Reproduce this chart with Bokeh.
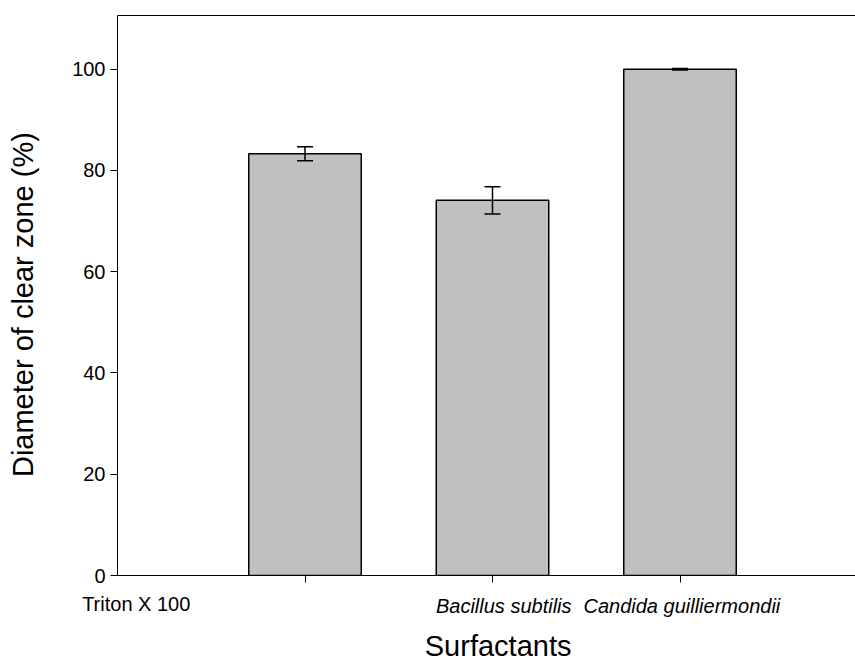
from bokeh.plotting import figure
from bokeh.models import ColumnDataSource, Whisker, TeeHead, FixedTicker, LinearAxis, Range1d
from bokeh.embed import file_html
from bokeh.resources import INLINE

# ---- data ----
bar_pos = [1, 2, 3]
values = [83.3, 74.1, 100.0]
errors = [1.4, 2.7, 0.15]
y_ticks = [0, 20, 40, 60, 80, 100]
cat_labels = ["Triton X 100", "Bacillus subtilis", "Candida guilliermondii"]
cat_label_x = [0.1, 2.06, 3.01]
x_title = "Surfactants"
y_title = "Diameter of clear zone (%)"
x_title_pos = 2.03
y_title_pos = 53.5

FONT = "Liberation Sans"

src = ColumnDataSource(dict(
    x=bar_pos, top=values,
    upper=[v + e for v, e in zip(values, errors)],
    lower=[v - e for v, e in zip(values, errors)],
))

p = figure(width=855, height=664, output_backend="svg", toolbar_location=None,
           x_range=Range1d(0, 3.936), y_range=Range1d(0, 110.6),
           min_border_left=117, min_border_right=0, min_border_top=15, min_border_bottom=89)
p.outline_line_color = None
p.grid.visible = False
p.background_fill_color = "white"

p.vbar(x="x", top="top", bottom=0, width=0.6, source=src,
       fill_color="#c0c0c0", line_color="black", line_width=1.5)

wh = Whisker(base="x", upper="upper", lower="lower", source=src,
             line_color="black", line_width=1.5, level="overlay",
             upper_head=TeeHead(size=16, line_color="black", line_width=1.5),
             lower_head=TeeHead(size=16, line_color="black", line_width=1.5))
p.add_layout(wh)

# y axis
ya = p.yaxis[0]
ya.ticker = FixedTicker(ticks=y_ticks)
ya.minor_tick_line_color = None
ya.major_tick_in = 0
ya.major_tick_out = 7
ya.major_label_standoff = 5
ya.major_label_text_font = FONT
ya.major_label_text_font_size = "20px"
ya.major_label_text_color = "black"
ya.axis_line_color = "black"
ya.major_tick_line_color = "black"

# y title as a rotated label of an outer left axis
yt = LinearAxis(ticker=FixedTicker(ticks=[y_title_pos], minor_ticks=[]),
                major_label_overrides={y_title_pos: y_title},
                major_label_orientation="vertical",
                axis_line_color=None, major_tick_line_color=None, minor_tick_line_color=None,
                major_tick_in=0, major_tick_out=0, minor_tick_in=0, minor_tick_out=0,
                major_label_standoff=30,
                major_label_text_font=FONT, major_label_text_font_size="29px",
                major_label_text_color="black")
p.add_layout(yt, "left")

# x axis (adjacent): tick marks at the bars, first category label (upright)
xa = p.xaxis[0]
xa.ticker = FixedTicker(ticks=cat_label_x[:1], minor_ticks=bar_pos)
xa.major_label_overrides = {cat_label_x[0]: cat_labels[0]}
xa.major_tick_line_color = None
xa.major_tick_in = 0
xa.major_tick_out = 7
xa.minor_tick_line_color = "black"
xa.minor_tick_in = 0
xa.minor_tick_out = 7
xa.major_label_standoff = 10
xa.major_label_text_font = FONT
xa.major_label_text_font_size = "20px"
xa.major_label_text_color = "black"
xa.axis_line_color = "black"

# second x axis: italic category labels on the same row
xb = LinearAxis(ticker=FixedTicker(ticks=cat_label_x[1:], minor_ticks=[]),
                major_label_overrides={xx: t for xx, t in zip(cat_label_x[1:], cat_labels[1:])},
                axis_line_color=None, major_tick_line_color=None, minor_tick_line_color=None,
                major_tick_in=0, major_tick_out=0, minor_tick_in=0, minor_tick_out=0,
                major_label_standoff=-23,
                major_label_text_font=FONT, major_label_text_font_size="20px",
                major_label_text_font_style="italic", major_label_text_color="black")
p.add_layout(xb, "below")

# x title as a label of a third bottom axis
xt = LinearAxis(ticker=FixedTicker(ticks=[x_title_pos], minor_ticks=[]),
                major_label_overrides={x_title_pos: x_title},
                axis_line_color=None, major_tick_line_color=None, minor_tick_line_color=None,
                major_tick_in=0, major_tick_out=0, minor_tick_in=0, minor_tick_out=0,
                major_label_standoff=10,
                major_label_text_font=FONT, major_label_text_font_size="29px",
                major_label_text_color="black")
p.add_layout(xt, "below")

# top border line
top = LinearAxis(ticker=FixedTicker(ticks=[]),
                 major_tick_line_color=None, minor_tick_line_color=None,
                 major_tick_out=0, major_tick_in=0, major_label_standoff=0,
                 axis_line_color="black")
p.add_layout(top, "above")

open("out.html", "w").write(file_html(p, INLINE))
